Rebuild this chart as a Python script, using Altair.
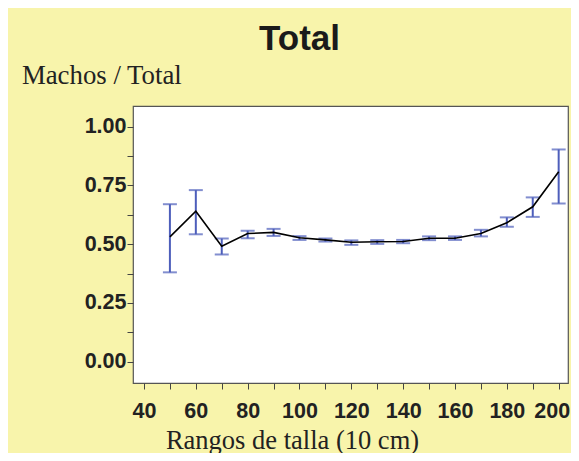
import altair as alt
import pandas as pd

tallas = [50, 60, 70, 80, 90, 100, 110, 120, 130, 140, 150, 160, 170, 180, 190, 200]
proporcion = [0.531, 0.640, 0.491, 0.545, 0.550, 0.527, 0.518, 0.508, 0.510, 0.511,
              0.525, 0.525, 0.545, 0.591, 0.659, 0.808]
limite_sup = [0.670, 0.730, 0.524, 0.557, 0.565, 0.534, 0.524, 0.516, 0.517, 0.518,
              0.533, 0.533, 0.561, 0.614, 0.699, 0.903]
limite_inf = [0.380, 0.542, 0.456, 0.525, 0.535, 0.518, 0.511, 0.497, 0.501, 0.504,
              0.517, 0.518, 0.533, 0.574, 0.616, 0.673]

x_ticks = list(range(40, 201, 10))
y_ticks = [i * 0.125 for i in range(9)]

df = pd.DataFrame({"talla": tallas, "p": proporcion, "lo": limite_inf, "hi": limite_sup})

xscale = alt.Scale(domain=[35.76, 203.6], nice=False, zero=False)
yscale = alt.Scale(domain=[-0.091, 1.088], nice=False, zero=False)

lab_font = "Liberation Sans"
serif = "Liberation Serif"
bar_color = "#4d5ebb"

xaxis = alt.Axis(
    values=x_ticks,
    labelExpr="datum.value % 20 == 0 ? datum.label : ''",
    title="Rangos de talla (10 cm)",
    titleFont=serif, titleFontSize=26.5, titleFontWeight="normal", titleColor="#222",
    titleAngle=0, titleAlign="center", titleBaseline="alphabetic",
    titleX=159, titleY=65,
    labelFont=lab_font, labelFontSize=21.5, labelFontWeight="bold", labelColor="#222",
    labelPadding=11, labelFlush=10, labelFlushOffset=11, labelOverlap=False,
    tickSize=6, tickColor="#444", domain=False, grid=False,
)
yaxis = alt.Axis(
    values=y_ticks,
    labelExpr="datum.value % 0.25 == 0 ? format(datum.value, '.2f') : ''",
    title="Machos / Total",
    titleFont=serif, titleFontSize=26.8, titleFontWeight="normal", titleColor="#222",
    titleAngle=0, titleAlign="left", titleBaseline="alphabetic",
    titleX=-111.6, titleY=-22.7,
    labelFont=lab_font, labelFontSize=21.5, labelFontWeight="bold", labelColor="#222",
    labelPadding=1, labelFlush=False, labelOverlap=False,
    tickSize=6, tickColor="#444", domain=False, grid=False,
)

base = alt.Chart(df)
X = alt.X("talla:Q", scale=xscale, axis=xaxis)

stems = base.mark_rule(color=bar_color, strokeWidth=2).encode(
    x=X,
    y=alt.Y("lo:Q", scale=yscale, axis=yaxis, title="Machos / Total"),
    y2="hi:Q",
)
caps_lo = base.mark_tick(color=bar_color, orient="horizontal", size=14, thickness=2).encode(
    x=X,
    y=alt.Y("lo:Q", scale=yscale, axis=yaxis, title="Machos / Total"),
)
caps_hi = base.mark_tick(color=bar_color, orient="horizontal", size=14, thickness=2).encode(
    x=X,
    y=alt.Y("hi:Q", scale=yscale, axis=yaxis, title="Machos / Total"),
)

line = base.mark_line(color="black", strokeWidth=1.6).encode(
    x=X,
    y=alt.Y("p:Q", scale=yscale, axis=yaxis, title="Machos / Total"),
)

chart = alt.layer(stems, caps_lo, caps_hi, line).properties(
    width=435,
    height=277,
    autosize=alt.AutoSizeParams(type="none"),
    padding={"left": 125, "top": 98, "right": 3, "bottom": 70},
    background="#f8f4ab",
    title=alt.TitleParams(
        "Total", font="Liberation Sans", fontSize=35,
        fontWeight="bold", color="#1a1a1a", anchor="middle", frame="group",
        dx=-51, offset=5,
    ),
).configure_view(fill="white", stroke="#555", strokeWidth=1.2)

chart.save("out.html", embed_options={"renderer": "svg", "actions": False})
